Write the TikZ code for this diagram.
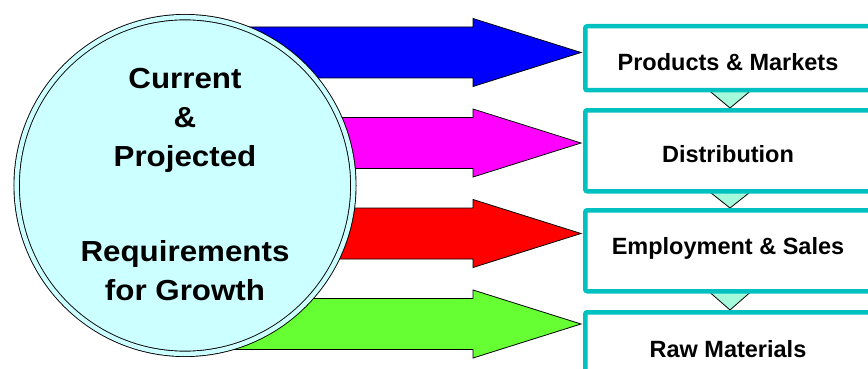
\documentclass[tikz,border=0pt]{standalone}
\usepackage{fontspec}
\setmainfont{Liberation Sans}
\newfontfamily\circfont[FakeStretch=1.08]{Liberation Sans}
\definecolor{circfill}{RGB}{204,255,255}
\definecolor{boxline}{RGB}{0,192,192}
\definecolor{trifill}{RGB}{166,250,220}
\definecolor{arrblue}{RGB}{0,0,255}
\definecolor{arrmagenta}{RGB}{255,0,255}
\definecolor{arrred}{RGB}{255,0,0}
\definecolor{arrgreen}{RGB}{102,255,51}
\begin{document}
\begin{tikzpicture}[x=1pt,y=-1pt,
  arr/.style={draw=black,line width=0.8pt,line join=miter},
  circ/.style={circle,draw=black,line width=0.9pt,double=circfill,double distance=4.5pt,fill=circfill,minimum size=336.7pt,inner sep=0pt},
  circtxt/.style={font=\circfont\bfseries\fontsize{29}{39}\selectfont,align=center,anchor=north,inner sep=0pt},
  stage/.style={draw=boxline,line width=4.5pt,fill=white,rounded corners=2pt,minimum width=297pt,anchor=north west,inner sep=0pt},
  stagetxt/.style={font=\bfseries\fontsize{23.5}{28}\selectfont,anchor=base,inner sep=0pt},
  tri/.style={draw=black,line width=0.8pt,fill=trifill}]
\useasboundingbox (0,0) rectangle (868,369);
\clip (0,0) rectangle (868,369);
\pgfmathsetmacro{\sh}{25.5}
\pgfmathsetmacro{\hh}{34}
\pgfmathsetmacro{\hb}{473}
\pgfmathsetmacro{\tip}{581}
% block arrows, behind the circle
\foreach \y/\c in {52.5/arrblue,143/arrmagenta,233.5/arrred,324/arrgreen}
  \draw[arr,fill=\c](200,\y-\sh)--(\hb,\y-\sh)--(\hb,\y-\hh)--(\tip,\y)--(\hb,\y+\hh)--(\hb,\y+\sh)--(200,\y+\sh)--cycle;
\node[circ] (req) at (185,185.5) {};
\node[circtxt] (cur) at (185,68) {Current\\\&\\Projected};
\node[circtxt] (grow) at (185,240) {Requirements\\for Growth};
% small triangles between the boxes
\foreach \t/\b in {88/108,189/208,289/310}
  \draw[tri](706,\t)--(730,\b)--(754,\t)--cycle;
\node[stage,minimum height=64pt] (pm) at (583,24) {};
\node[stage,minimum height=81pt] (dist) at (583,108) {};
\node[stage,minimum height=81pt] (emp) at (583,208) {};
\node[stage,minimum height=90pt] (raw) at (583,310) {};
\node[stagetxt] (pmtxt) at (728,70.7) {Products \& Markets};
\node[stagetxt] (disttxt) at (728,162.3) {Distribution};
\node[stagetxt] (emptxt) at (728,254) {Employment \& Sales};
\node[stagetxt] (rawtxt) at (728,357.3) {Raw Materials};
\end{tikzpicture}
\end{document}
